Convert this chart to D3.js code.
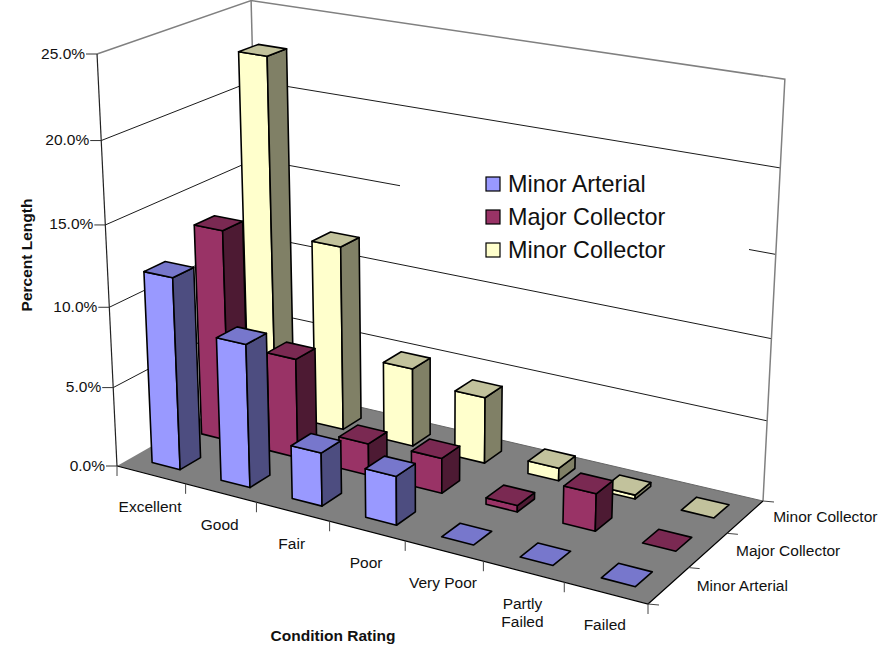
<!DOCTYPE html>
<html>
<head>
<meta charset="utf-8">
<script src="https://cdn.jsdelivr.net/npm/d3@7/dist/d3.min.js"></script>
<style>
  html, body { margin: 0; padding: 0; background: #fff; }
  svg { display: block; }
  text { font-family: "Liberation Sans", Arial, sans-serif; fill: #111; }
</style>
</head>
<body>
<svg id="chart" width="893" height="646"></svg>
<script>
// Pavement condition by functional class, percent of network length.
const conditions = ["Excellent", "Good", "Fair", "Poor", "Very Poor", "Partly Failed", "Failed"];
const seriesNames = ["Minor Arterial", "Major Collector", "Minor Collector"];
const minorArterial = [12.0, 8.9, 3.3, 3.0, 0, 0, 0];
const majorCollector = [13.4, 6.3, 2.0, 2.2, 0.4, 2.3, 0];
const minorCollector = [22.8, 11.8, 5.0, 4.2, 0.8, 0.25, 0];
const percentTicks = [0, 5, 10, 15, 20, 25];

const seriesValues = [minorArterial, majorCollector, minorCollector];
const seriesColors = [
  { front: "#9999ff", top: "#7777cc", side: "#4d4d80" },
  { front: "#993366", top: "#7a2952", side: "#4d1a33" },
  { front: "#ffffcc", top: "#c2c29c", side: "#808066" }
];

const svg = d3.select("#chart");

// Floor quadrilateral on screen (front-left, front-right, back-right, back-left).
const floorQuad = [[117, 466], [648, 604], [763, 501], [261, 384]];
const verticalVanish = [430, 6925];
const frontTopY = 54;

// Homography from the unit square to the floor quadrilateral.
function squareToQuad(q) {
  const [[x0, y0], [x1, y1], [x2, y2], [x3, y3]] = q;
  const dx1 = x1 - x2, dx2 = x3 - x2, sx = x0 - x1 + x2 - x3;
  const dy1 = y1 - y2, dy2 = y3 - y2, sy = y0 - y1 + y2 - y3;
  const det = dx1 * dy2 - dx2 * dy1;
  const g = (sx * dy2 - dx2 * sy) / det;
  const h = (dx1 * sy - sx * dy1) / det;
  return [
    [x1 - x0 + g * x1, x3 - x0 + h * x3, x0],
    [y1 - y0 + g * y1, y3 - y0 + h * y3, y0],
    [g, h, 1]
  ];
}
const H = squareToQuad(floorQuad);
const lambda = (floorQuad[0][1] - frontTopY) / (frontTopY - verticalVanish[1]);

// Scales: depth fractions along the two floor axes and height fraction.
const xBand = d3.scaleBand().domain(conditions).range([0, 1]).paddingInner(0.59).paddingOuter(0.295);
const zBand = d3.scaleBand().domain(seriesNames).range([0, 1]).paddingInner(0.59).paddingOuter(0.295);
const yScale = d3.scaleLinear().domain([0, 25]).range([0, 1]);

// Perspective projection of a point (u along categories, v along series, w up).
function project(u, v, w) {
  const X = H[0][0] * u + H[0][1] * v + H[0][2] + w * lambda * verticalVanish[0];
  const Y = H[1][0] * u + H[1][1] * v + H[1][2] + w * lambda * verticalVanish[1];
  const W = H[2][0] * u + H[2][1] * v + H[2][2] + w * lambda;
  return [X / W, Y / W];
}
const polyPath = pts => "M" + pts.map(p => p.map(n => n.toFixed(2)).join(",")).join("L") + "Z";
const linePath = d3.line();

// Floor
svg.append("path")
  .attr("d", polyPath([project(0, 0, 0), project(1, 0, 0), project(1, 1, 0), project(0, 1, 0)]))
  .attr("fill", "#808080");

// Wall gridlines
const grid = svg.append("g").attr("fill", "none").attr("stroke", "#1a1a1a").attr("stroke-width", 1);
percentTicks.filter(t => t > 0 && t < 25).forEach(t => {
  const w = yScale(t);
  grid.append("path").attr("d", linePath([project(0, 0, w), project(0, 1, w), project(1, 1, w)]));
});
grid.append("path").attr("d", linePath([project(0, 1, 0), project(1, 1, 0)])).attr("stroke", "#666");

// Wall frame
svg.append("path")
  .attr("d", linePath([project(0, 1, 0), project(0, 1, 1)]))
  .attr("fill", "none").attr("stroke", "#808080").attr("stroke-width", 1.5);
svg.append("path")
  .attr("d", linePath([project(0, 0, 1), project(0, 1, 1), project(1, 1, 1), project(1, 1, 0)]))
  .attr("fill", "none").attr("stroke", "#808080").attr("stroke-width", 1.5);

// Value axis
const axisG = svg.append("g");
axisG.append("path")
  .attr("d", linePath([project(0, 0, 0), project(0, 0, 1)]))
  .attr("fill", "none").attr("stroke", "#222").attr("stroke-width", 1.2);
percentTicks.forEach(t => {
  const [x, y] = project(0, 0, yScale(t));
  axisG.append("line").attr("x1", x - 11).attr("x2", x).attr("y1", y).attr("y2", y)
    .attr("stroke", "#333").attr("stroke-width", 1);
  axisG.append("text").attr("x", x - 12).attr("y", y + 4.5)
    .attr("text-anchor", "end").attr("font-size", 15.5)
    .text(d3.format(".1f")(t) + "%");
});

// Floor front and right edges with their ticks
const edges = svg.append("g").attr("fill", "none").attr("stroke", "#000").attr("stroke-width", 1.2);
edges.append("path").attr("d", linePath([project(0, 0, 0), project(1, 0, 0), project(1, 1, 0)]));
const catStep = xBand.step(), serStep = zBand.step();
d3.range(conditions.length + 1).forEach(i => {
  const [x, y] = project(i * catStep, 0, 0);
  edges.append("line").attr("x1", x).attr("y1", y).attr("x2", x).attr("y2", y + 10)
    .attr("stroke", "#444").attr("stroke-width", 1);
});
d3.range(seriesNames.length + 1).forEach(i => {
  const [x, y] = project(1, i * serStep, 0);
  edges.append("line").attr("x1", x).attr("y1", y).attr("x2", x + 11).attr("y2", y + 1)
    .attr("stroke", "#444").attr("stroke-width", 1);
});

// Category labels
conditions.forEach(c => {
  const [x, y] = project(xBand(c) + xBand.bandwidth() / 2, 0, 0);
  const words = c === "Partly Failed" ? ["Partly", "Failed"] : [c];
  const t = svg.append("text").attr("text-anchor", "middle").attr("font-size", 15.5);
  words.forEach((word, k) => {
    t.append("tspan").attr("x", x - 1).attr("y", y + 37 + k * 18).text(word);
  });
});

// Series labels
seriesNames.forEach(s => {
  const [x, y] = project(1, zBand(s) + zBand.bandwidth() / 2, 0);
  svg.append("text").attr("x", x + 28).attr("y", y + 5.5).attr("font-size", 15.5).text(s);
});

// Legend panel hides the wall gridlines behind it
svg.append("rect").attr("x", 400).attr("y", 165).attr("width", 349).attr("height", 91).attr("fill", "#fff");

// Bars, painted from the back row forward and from left to right
seriesNames.map((s, i) => i).reverse().forEach(si => {
  const colors = seriesColors[si];
  const v0 = zBand(seriesNames[si]), v1 = v0 + zBand.bandwidth();
  conditions.forEach((c, ci) => {
    const u0 = xBand(c), u1 = u0 + xBand.bandwidth();
    const w = yScale(seriesValues[si][ci]);
    const g = svg.append("g").attr("stroke", "#000").attr("stroke-width", 1.6).attr("stroke-linejoin", "round");
    if (w > 0) {
      g.append("path").attr("fill", colors.front)
        .attr("d", polyPath([project(u0, v0, 0), project(u1, v0, 0), project(u1, v0, w), project(u0, v0, w)]));
      g.append("path").attr("fill", colors.side)
        .attr("d", polyPath([project(u1, v0, 0), project(u1, v1, 0), project(u1, v1, w), project(u1, v0, w)]));
    }
    g.append("path").attr("fill", colors.top)
      .attr("d", polyPath([project(u0, v0, w), project(u1, v0, w), project(u1, v1, w), project(u0, v1, w)]));
  });
});

// Legend entries
const legendRow = d3.scalePoint().domain(seriesNames).range([184, 250]);
seriesNames.forEach((s, i) => {
  const y = legendRow(s);
  svg.append("rect").attr("x", 486).attr("y", y - 7).attr("width", 14).attr("height", 14)
    .attr("fill", seriesColors[i].front).attr("stroke", "#000").attr("stroke-width", 1.2);
  svg.append("text").attr("x", 508).attr("y", y + 8).attr("font-size", 23.4).text(s);
});

// Axis titles
svg.append("text").attr("x", 333).attr("y", 641).attr("text-anchor", "middle")
  .attr("font-size", 15.5).attr("font-weight", "bold").text("Condition Rating");
svg.append("text").attr("transform", "translate(32,255) rotate(-90)").attr("text-anchor", "middle")
  .attr("font-size", 15.5).attr("font-weight", "bold").text("Percent Length");
</script>
</body>
</html>
